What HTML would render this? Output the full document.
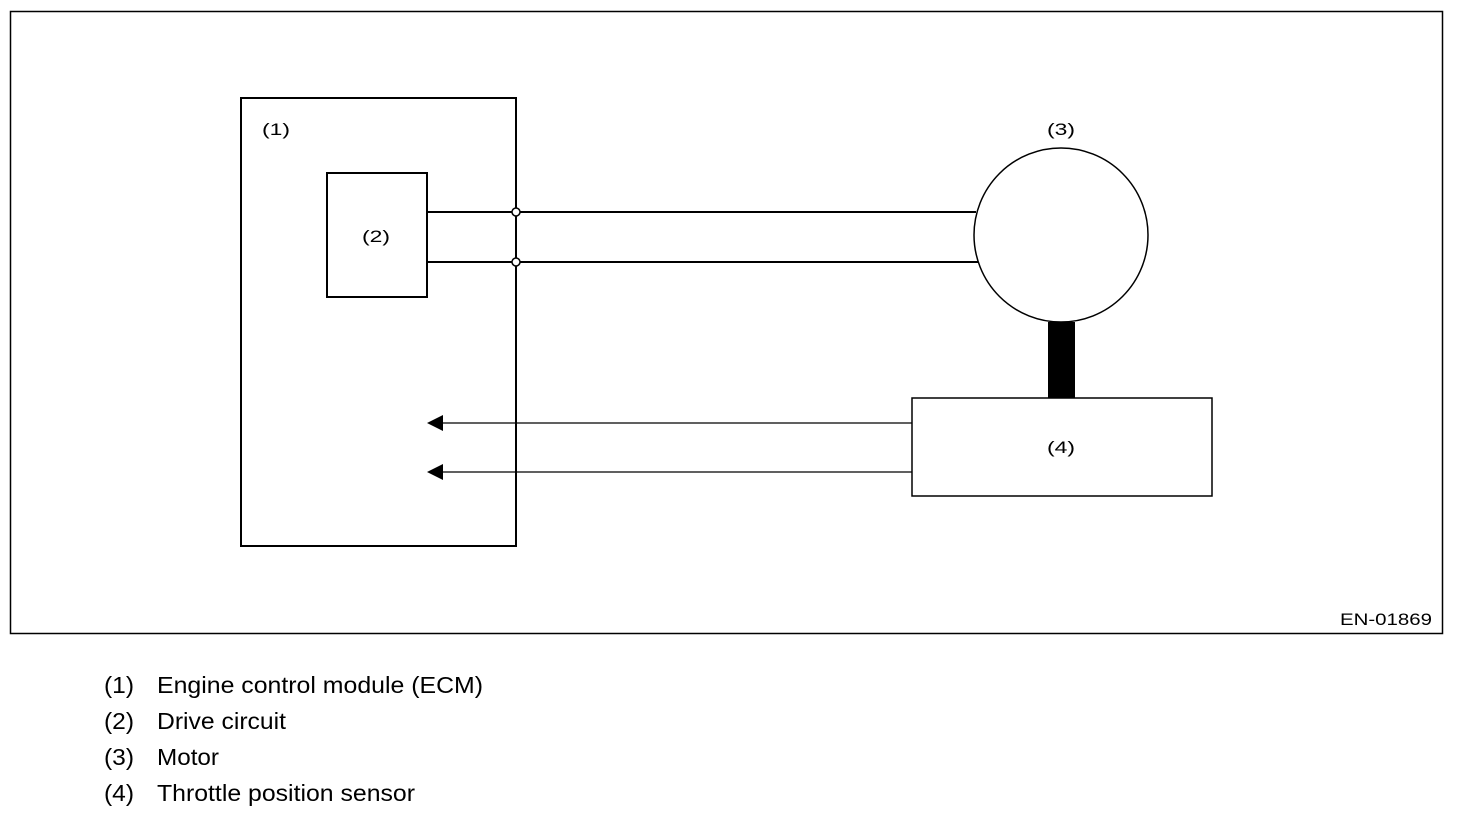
<!DOCTYPE html>
<html><head><meta charset="utf-8"><style>
html,body{margin:0;padding:0;background:#fff;}
svg{display:block;}
text{font-family:"Liberation Sans",Arial,sans-serif;fill:#000;}
</style></head><body>
<svg width="1472" height="814" viewBox="0 0 1472 814" xmlns="http://www.w3.org/2000/svg">
<rect x="10.5" y="11.5" width="1432" height="622" fill="none" stroke="#000" stroke-width="1.5"/>
<rect x="241" y="98" width="275" height="448" fill="none" stroke="#000" stroke-width="2"/>
<text x="262" y="135" font-size="17" textLength="28" lengthAdjust="spacingAndGlyphs">(1)</text>
<rect x="327" y="173" width="100" height="124" fill="none" stroke="#000" stroke-width="2"/>
<text x="362" y="242" font-size="17" textLength="28" lengthAdjust="spacingAndGlyphs">(2)</text>
<line x1="427" y1="212" x2="976" y2="212" stroke="#000" stroke-width="2"/>
<line x1="427" y1="262" x2="978" y2="262" stroke="#000" stroke-width="2"/>
<circle cx="516" cy="212" r="4" fill="#fff" stroke="#000" stroke-width="1.5"/>
<circle cx="516" cy="262" r="4" fill="#fff" stroke="#000" stroke-width="1.5"/>
<circle cx="1061" cy="235" r="87" fill="#fff" stroke="#000" stroke-width="1.5"/>
<text x="1047" y="135" font-size="17" textLength="28" lengthAdjust="spacingAndGlyphs">(3)</text>
<rect x="1048" y="322" width="27" height="76" fill="#000"/>
<rect x="912" y="398" width="300" height="98" fill="#fff" stroke="#000" stroke-width="1.5"/>
<text x="1047" y="453" font-size="17" textLength="28" lengthAdjust="spacingAndGlyphs">(4)</text>
<line x1="440" y1="423" x2="912" y2="423" stroke="#000" stroke-width="1.2"/>
<line x1="440" y1="472" x2="912" y2="472" stroke="#000" stroke-width="1.2"/>
<polygon points="427,423 443,415 443,431" fill="#000"/>
<polygon points="427,472 443,464 443,480" fill="#000"/>
<text x="1340" y="625" font-size="17" textLength="92" lengthAdjust="spacingAndGlyphs">EN-01869</text>
<g font-size="23">
<text x="104" y="693" textLength="30" lengthAdjust="spacingAndGlyphs">(1)</text><text x="157" y="693" textLength="326" lengthAdjust="spacingAndGlyphs">Engine control module (ECM)</text>
<text x="104" y="729" textLength="30" lengthAdjust="spacingAndGlyphs">(2)</text><text x="157" y="729" textLength="129" lengthAdjust="spacingAndGlyphs">Drive circuit</text>
<text x="104" y="765" textLength="30" lengthAdjust="spacingAndGlyphs">(3)</text><text x="157" y="765" textLength="62" lengthAdjust="spacingAndGlyphs">Motor</text>
<text x="104" y="801" textLength="30" lengthAdjust="spacingAndGlyphs">(4)</text><text x="157" y="801" textLength="258" lengthAdjust="spacingAndGlyphs">Throttle position sensor</text>
</g>
</svg>
</body></html>
